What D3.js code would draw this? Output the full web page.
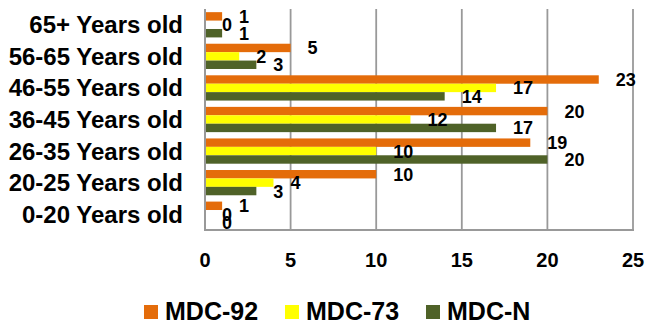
<!DOCTYPE html>
<html><head><meta charset="utf-8">
<script src="https://cdn.jsdelivr.net/npm/d3@7/dist/d3.min.js"></script>
<style>body{margin:0;background:#fff}svg{display:block}text{font-family:"Liberation Sans",Arial,sans-serif;font-weight:bold;fill:#000}</style>
</head><body><svg id="c" width="656" height="323"></svg>
<script>
const categories = ["65+ Years old","56-65 Years old","46-55 Years old","36-45 Years old","26-35 Years old","20-25 Years old","0-20 Years old"];
const seriesNames = ["MDC-92","MDC-73","MDC-N"];
const mdc92 = [1,5,23,20,19,10,1];
const mdc73 = [0,2,17,12,10,4,0];
const mdcN  = [1,3,14,17,20,3,0];
const xTicks = [0,5,10,15,20,25];
const colors = ["#E46C0A","#FFFF00","#4F6228"];
const seriesValues = [mdc92, mdc73, mdcN];

const svg = d3.select("#c");
const x = d3.scaleLinear().domain([0,25]).range([205,633]);
const y = d3.scaleBand().domain(categories).range([9,230]).paddingInner(0.2).paddingOuter(0.1);
const ys = d3.scaleBand().domain(seriesNames).range([0,y.bandwidth()]);

// gridlines
svg.append("g").selectAll("line").data(xTicks.slice(1)).join("line")
  .attr("x1",d=>x(d)).attr("x2",d=>x(d)).attr("y1",9).attr("y2",230)
  .attr("stroke","#999").attr("stroke-width",1.8);

// bars
const groups = svg.append("g").selectAll("g").data(categories).join("g")
  .attr("transform",c=>`translate(0,${y(c)})`);
seriesNames.forEach((s,si)=>{
  groups.append("rect")
    .attr("x",x(0)).attr("y",ys(s)).attr("height",ys.bandwidth())
    .attr("width",(c,i)=>x(seriesValues[si][i])-x(0))
    .attr("fill",colors[si]);
});
// labels
seriesNames.forEach((s,si)=>{
  groups.append("text")
    .attr("x",(c,i)=>x(seriesValues[si][i])+17)
    .attr("y",ys(s)+ys.bandwidth()/2+6.5)
    .attr("font-size",18)
    .text((c,i)=>seriesValues[si][i]);
});

// axes lines
svg.append("line").attr("x1",x(0)).attr("x2",x(0)).attr("y1",9).attr("y2",230).attr("stroke","#999").attr("stroke-width",2);
svg.append("line").attr("x1",x(0)-1).attr("x2",x(25)+1).attr("y1",230).attr("y2",230).attr("stroke","#999").attr("stroke-width",2);

// category labels
svg.append("g").selectAll("text").data(categories).join("text")
  .attr("x",183).attr("y",c=>y(c)+y.bandwidth()/2+8.5)
  .attr("text-anchor","end").attr("font-size",24).text(c=>c);

// tick labels
svg.append("g").selectAll("text").data(xTicks).join("text")
  .attr("x",d=>x(d)).attr("y",267).attr("text-anchor","middle").attr("font-size",20).text(d=>d);

// legend
const legX = [144,285,426];
const leg = svg.append("g").selectAll("g").data(seriesNames).join("g")
  .attr("transform",(d,i)=>`translate(${legX[i]},0)`);
leg.append("rect").attr("x",0).attr("y",305).attr("width",14).attr("height",14).attr("fill",(d,i)=>colors[i]);
leg.append("text").attr("x",21).attr("y",320).attr("font-size",25).text(d=>d);
</script></body></html>
